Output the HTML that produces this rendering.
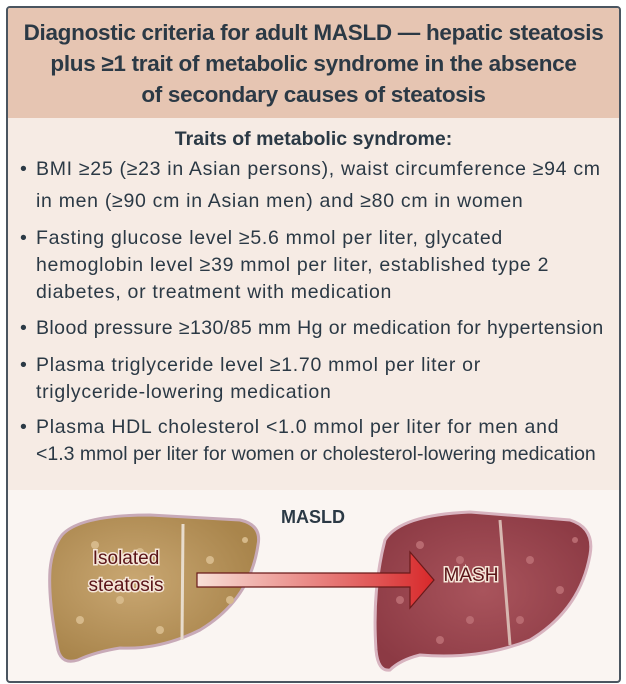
<!DOCTYPE html>
<html><head><meta charset="utf-8"><style>
html,body{margin:0;padding:0;background:#fff;}
body{width:626px;height:684px;position:relative;overflow:hidden;font-family:"Liberation Sans",sans-serif;color:#2b3945;}
.frame{position:absolute;left:6px;top:6px;width:611px;height:673px;border:2px solid #4a5560;border-radius:4px;overflow:hidden;background:#faf5f2;}
.hdr{position:absolute;left:0;top:0;width:611px;height:110px;background:#e6c5b2;text-align:center;font-size:22.5px;font-weight:bold;line-height:31px;padding-top:9px;box-sizing:border-box;letter-spacing:-0.3px;}
.traits{position:absolute;left:0;top:110px;width:611px;height:372px;background:#f6ebe4;}
.tt{position:absolute;top:10px;width:611px;text-align:center;font-size:19.5px;font-weight:bold;}
.li{position:absolute;left:12px;font-size:19.5px;line-height:27px;letter-spacing:0.7px;white-space:nowrap;}
.li span{position:absolute;left:0;}
.li div{padding-left:16px;}
</style></head><body>
<div class="frame">
<div class="hdr">Diagnostic criteria for adult MASLD — hepatic steatosis<br>plus ≥1 trait of metabolic syndrome in the absence<br>of secondary causes of steatosis</div>
<div class="traits">
<div class="tt">Traits of metabolic syndrome:</div>
<div class="li" style="top:38px"><span>•</span><div>BMI ≥25 (≥23 in Asian persons), waist circumference ≥94 cm<br><span style="position:static;display:block;margin-top:5px">in men (≥90 cm in Asian men) and ≥80 cm in women</span></div></div>
<div class="li" style="top:107px"><span>•</span><div>Fasting glucose level ≥5.6 mmol per liter, glycated<br>hemoglobin level ≥39 mmol per liter, established type 2<br>diabetes, or treatment with medication</div></div>
<div class="li" style="top:197px;letter-spacing:0.42px"><span>•</span><div>Blood pressure ≥130/85 mm Hg or medication for hypertension</div></div>
<div class="li" style="top:234px"><span>•</span><div>Plasma triglyceride level ≥1.70 mmol per liter or<br>triglyceride-lowering medication</div></div>
<div class="li" style="top:296px"><span>•</span><div>Plasma HDL cholesterol &lt;1.0 mmol per liter for men and<br><span style="position:static;letter-spacing:0px">&lt;1.3 mmol per liter for women or cholesterol-lowering medication</span></div></div>
</div>
</div>
<svg width="626" height="684" style="position:absolute;left:0;top:0">
<defs>
<linearGradient id="ar" x1="0" x2="1"><stop offset="0" stop-color="#f8e0d8"/><stop offset="1" stop-color="#d8282a"/></linearGradient>
<radialGradient id="lg" cx="0.4" cy="0.45" r="0.6"><stop offset="0" stop-color="#c9a772"/><stop offset="1" stop-color="#a9854c"/></radialGradient>
<radialGradient id="rg" cx="0.5" cy="0.5" r="0.6"><stop offset="0" stop-color="#a9545c"/><stop offset="1" stop-color="#8c3a44"/></radialGradient>
</defs>
<path d="M62 535 Q80 515 150 515 L240 520 Q262 525 258 545 Q250 600 200 630 Q160 650 120 648 Q95 652 78 660 Q62 665 58 650 Q48 600 50 570 Q52 548 62 535Z" fill="url(#lg)" stroke="#c8aab8" stroke-width="3"/>
<path d="M183 524 L182 640" stroke="#e8dccc" stroke-width="3"/>
<path d="M385 540 Q400 515 470 512 L570 520 Q595 528 590 555 Q580 610 530 640 Q480 660 420 655 Q400 660 390 670 Q378 672 376 650 Q372 590 385 540Z" fill="url(#rg)" stroke="#d8b4c0" stroke-width="3"/>
<path d="M500 520 L510 645" stroke="#d7b7b0" stroke-width="3"/>
<g fill="#d6b98a"><circle cx="95" cy="545" r="4"/><circle cx="140" cy="552" r="4"/><circle cx="120" cy="600" r="4"/><circle cx="210" cy="560" r="4"/><circle cx="230" cy="600" r="4"/><circle cx="80" cy="620" r="4"/><circle cx="160" cy="630" r="4"/><circle cx="245" cy="540" r="3"/></g>
<g fill="#b86a70"><circle cx="420" cy="545" r="4"/><circle cx="460" cy="560" r="4"/><circle cx="400" cy="600" r="4"/><circle cx="470" cy="620" r="4"/><circle cx="530" cy="560" r="4"/><circle cx="560" cy="590" r="4"/><circle cx="520" cy="620" r="4"/><circle cx="575" cy="540" r="3"/><circle cx="440" cy="640" r="4"/></g>
<path d="M197 573 L410 573 L410 552 L434 580 L410 608 L410 587 L197 587Z" fill="url(#ar)" stroke="#6a1a1a" stroke-width="1.2"/>
<text x="313" y="523" text-anchor="middle" font-family="Liberation Sans" font-weight="bold" font-size="18" fill="#2b3945">MASLD</text>
<g font-family="Liberation Sans" font-size="19" fill="#5a1418" text-anchor="middle" stroke="#f5e6d8" stroke-width="3" paint-order="stroke">
<text x="126" y="564">Isolated</text><text x="126" y="591">steatosis</text>
<text x="471" y="581">MASH</text></g>
</svg>
</body></html>
